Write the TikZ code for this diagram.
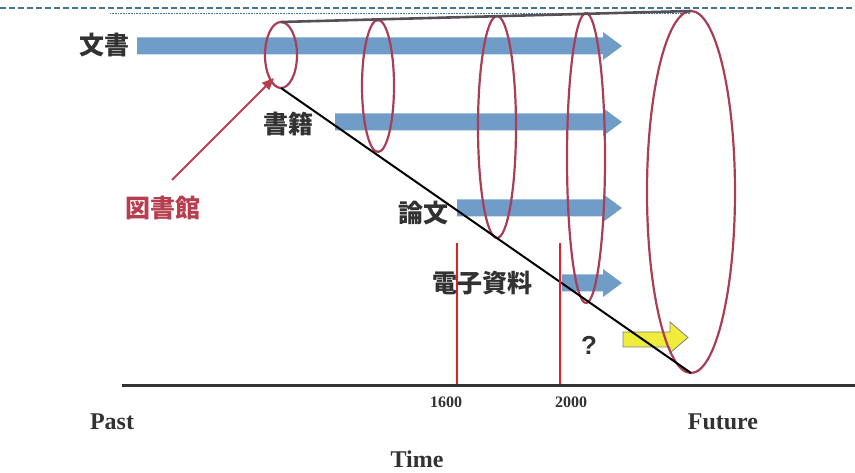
\documentclass[tikz,border=0pt]{standalone}
\usepackage{fontspec}
\setmainfont{Liberation Serif}
\newfontfamily\jpfont{Noto Sans CJK JP}
\newfontfamily\qfont{Liberation Sans}
\usetikzlibrary{arrows.meta}
\definecolor{arrowblue}{RGB}{112,156,200}
\definecolor{dashblue}{RGB}{70,115,150}
\definecolor{ellred}{RGB}{168,62,88}
\definecolor{linered}{RGB}{222,34,44}
\definecolor{libred}{RGB}{182,62,78}
\definecolor{conegray}{RGB}{85,80,85}
\definecolor{textgray}{RGB}{50,50,50}
\definecolor{arrowyellow}{RGB}{240,236,60}
\tikzset{
  jplabel/.style={font=\jpfont\bfseries\fontsize{25}{25}\selectfont,text=textgray,inner sep=0pt},
  axislabel/.style={font=\bfseries\fontsize{24}{24}\selectfont,text=textgray,inner sep=0pt},
  yearlabel/.style={font=\bfseries\fontsize{16}{16}\selectfont,text=textgray,inner sep=0pt},
  ring/.style={ellred,line width=2.2pt}
}
\begin{document}
\begin{tikzpicture}[x=1pt,y=-1pt]
	\useasboundingbox (0,0) rectangle (855,473);
	
	% top rule
	\draw[dashblue,line width=1.8pt,dash pattern=on 6pt off 3pt](0,8)--(855,8);
	\draw[dashblue,line width=0.6pt,densely dotted](110,13)--(690,13);
	
	% blue arrows
	\foreach \xl/\yc in {137/46,335/122,457/208,562/283}
	\fill[arrowblue](\xl,\yc-8.5)--(603,\yc-8.5)--(603,\yc-14)--(622,\yc)--(603,\yc+14)--(603,\yc+8.5)--(\xl,\yc+8.5)--cycle;
	
	% yellow arrow
	\filldraw[fill=arrowyellow,draw=gray,line width=0.8pt](623,332)--(670,332)--(670,322)--(688,337.5)--(670,353)--(670,347)--(623,347)--cycle;
	
	% rings
	\draw[ring](281,55) ellipse [x radius=16,y radius=33];
	\draw[ring](378,86) ellipse [x radius=16,y radius=66];
	\draw[ring](497,127) ellipse [x radius=19,y radius=111];
	\draw[ring](586,158) ellipse [x radius=19,y radius=145];
	\draw[ring](691,192) ellipse [x radius=44,y radius=181];
	
	\coordinate (top1) at (281,22);
	\coordinate (top5) at (691,11);
	\coordinate (foot1) at (281,88);
	\coordinate (foot5) at (691,373);
	
	\draw[conegray,line width=2.6pt](top1)--(top5);
	\draw[black,line width=2pt](foot1)--(foot5);
	
	% years
	\coordinate (y1600) at (457,385);
	\coordinate (y2000) at (560,385);
	\draw[linered,line width=1.5pt](y1600)--++(0,-142);
	\draw[linered,line width=1.5pt](y2000)--++(0,-142);
	
	% time axis
	\coordinate (axl) at (122,385);
	\coordinate (axr) at (855,385);
	\draw[textgray,line width=3pt](axl)--(axr);
	
	\node[jplabel] (doc) at (104,45) {文書};
	\node[jplabel] (book) at (288,124) {書籍};
	\node[jplabel] (paper) at (423,213) {論文};
	\node[jplabel] (edoc) at (482,283) {電子資料};
	\node[jplabel,font=\qfont\bfseries\fontsize{26}{26}\selectfont] (unknown) at (589,345) {?};
	\node[jplabel,text=libred] (lib) at (163,208) {図書館};
	
	\coordinate (libfoot) at (172,180);
	\coordinate (libtip) at (274,78);
	\draw[libred,line width=2pt,-{Triangle[length=12pt,width=10pt]}](libfoot)--(libtip);
	
	\node[yearlabel] (n1600) at (446,402) {1600};
	\node[yearlabel] (n2000) at (571,402) {2000};
	\node[axislabel] (past) at (112,422) {Past};
	\node[axislabel] (future) at (723,422) {Future};
	\node[axislabel] (time) at (417,459) {Time};
\end{tikzpicture}
\end{document}
